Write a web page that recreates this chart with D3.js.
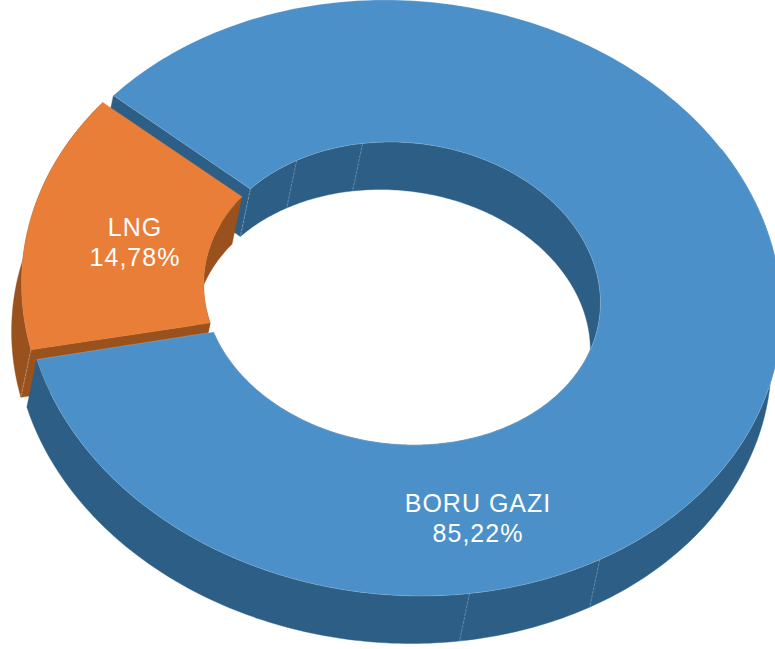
<!DOCTYPE html>
<html>
<head>
    <meta charset="utf-8">
    <style>
        html, body { margin: 0; padding: 0; background: #fff; }
        svg { display: block; }
        text { font-family: "Liberation Sans", Arial, sans-serif; font-size: 25px; letter-spacing: 1px; fill: #fff; text-anchor: middle; }
    </style>
</head>
<body>
    <script src="https://d3js.org/d3.v7.min.js"></script>
    <script>
        var categories = ["BORU GAZI", "LNG"];
        var values = [85.22, 14.78];
        var valueLabels = ["85,22%", "14,78%"];
        // wall joints, degrees clockwise from the top
        var seamsBack = [313.6, 331.4, 352];
        var seamsFront = [151.4, 172.6];
        var seamsOrange = [260];

        var width = 775,
            height = 649,
            depthX = -10,
            depthY = 47.5,
            frontWallFrom = 420;

        var ringOuter = { cx: 403, cy: 298, rx: 378, ry: 298, skew: 18 };
        var ringInner = { cx: 402, cy: 293.5, rx: 198, ry: 151.5, skew: 12 };
        var ringOuterLng = { cx: 400, cy: 298, rx: 378, ry: 298, skew: 18 };

        // the drawn slices stop a little short of the pie angles (degrees: start, end)
        var outerTrim = { "BORU GAZI": [1.5, 0], "LNG": [1.9, -0.3] };
        var innerTrim = { "BORU GAZI": [2.3, -2.8], "LNG": [0.7, -1.6] };

        var colors = {
            "BORU GAZI": { top: "#4c90c9", wall: "#2c5e86" },
            "LNG": { top: "#e87e38", wall: "#99521e" }
        };

        var labelPos = {
            "BORU GAZI": [478, 512],
            "LNG": [135, 236]
        };

        var rad = Math.PI / 180;

        var pie = d3.pie()
            .sort(null)
            .startAngle(311.3 * rad)
            .endAngle((311.3 + 360) * rad);

        var arcs = pie(values).map(function (d, i) {
            var name = categories[i];
            return {
                name: name,
                label: valueLabels[i],
                outer: name == "LNG" ? ringOuterLng : ringOuter,
                a0: d.startAngle + outerTrim[name][0] * rad,
                a1: d.endAngle + outerTrim[name][1] * rad,
                b0: d.startAngle + innerTrim[name][0] * rad,
                b1: d.endAngle + innerTrim[name][1] * rad
            };
        });

        var uScale = function (r) { return d3.scaleLinear().domain([-1, 1]).range([r.cx - r.rx, r.cx + r.rx]); };
        var vScale = function (r) { return d3.scaleLinear().domain([-1, 1]).range([r.cy - r.ry, r.cy + r.ry]); };

        function project(ring, a, down) {
            var u = Math.sin(a), v = -Math.cos(a);
            return [
                uScale(ring)(u) + ring.skew * v + (down ? depthX : 0),
                vScale(ring)(v) + (down ? depthY : 0)
            ];
        }

        function ringPoints(ring, a0, a1, down) {
            var n = Math.max(2, Math.ceil(Math.abs(a1 - a0) * 60));
            return d3.range(n + 1).map(function (i) {
                return project(ring, a0 + (a1 - a0) * i / n, down);
            });
        }

        var line = d3.line();

        function closed(points) { return line(points) + "Z"; }

        function topPath(d) {
            return closed(ringPoints(d.outer, d.a0, d.a1, false)
                .concat(ringPoints(ringInner, d.b1, d.b0, false)));
        }

        function wallPath(ring, a0, a1) {
            return closed(ringPoints(ring, a0, a1, false)
                .concat(ringPoints(ring, a1, a0, true)));
        }

        function sidePath(ring, a, b) {
            return closed([
                project(ring, a, false),
                project(ringInner, b, false),
                project(ringInner, b, true),
                project(ring, a, true)
            ]);
        }

        var svg = d3.select("body")
            .append("svg")
            .attr("width", width)
            .attr("height", height);

        function drawPath(path, fill) {
            return svg.append("path")
                .attr("d", path)
                .attr("fill", fill)
                .attr("stroke", fill)
                .attr("stroke-width", 0.4);
        }

        function drawSeam(ring, a) {
            var p0 = project(ring, a, false), p1 = project(ring, a, true);
            svg.append("line")
                .attr("x1", p0[0]).attr("y1", p0[1])
                .attr("x2", p1[0]).attr("y2", p1[1])
                .attr("stroke", "#fff")
                .attr("stroke-opacity", 0.4)
                .attr("stroke-width", 0.7)
                .attr("stroke-dasharray", "3,1");
        }

        var blue = arcs[0], orange = arcs[1];

        // back to front: blue back walls, the whole orange slice, then blue front wall and top
        drawPath(sidePath(blue.outer, blue.a0, blue.b0), colors[blue.name].wall);
        drawPath(wallPath(ringInner, blue.b0, blue.b1), colors[blue.name].wall);
        seamsBack.forEach(function (deg) {
            drawSeam(ringInner, deg * rad);
        });

        drawPath(wallPath(orange.outer, orange.a0, orange.a1), colors[orange.name].wall);
        drawPath(sidePath(orange.outer, orange.a0, orange.b0), colors[orange.name].wall);
        drawPath(wallPath(ringInner, orange.b0, orange.b1), colors[orange.name].wall);
        seamsOrange.forEach(function (deg) {
            drawSeam(orange.outer, deg * rad);
        });
        drawPath(topPath(orange), colors[orange.name].top);

        drawPath(wallPath(blue.outer, frontWallFrom * rad, blue.a1), colors[blue.name].wall);
        seamsFront.forEach(function (deg) {
            drawSeam(ringOuter, deg * rad);
        });
        drawPath(topPath(blue), colors[blue.name].top)
            .attr("stroke", "#fff")
            .attr("stroke-opacity", 0.3)
            .attr("stroke-width", 0.6);

        arcs.forEach(function (d) {
            var pos = labelPos[d.name];
            var t = svg.append("text").attr("x", pos[0]).attr("y", pos[1]);
            t.append("tspan").attr("x", pos[0]).text(d.name);
            t.append("tspan").attr("x", pos[0]).attr("dy", 30).text(d.label);
        });
    </script>
</body>
</html>
